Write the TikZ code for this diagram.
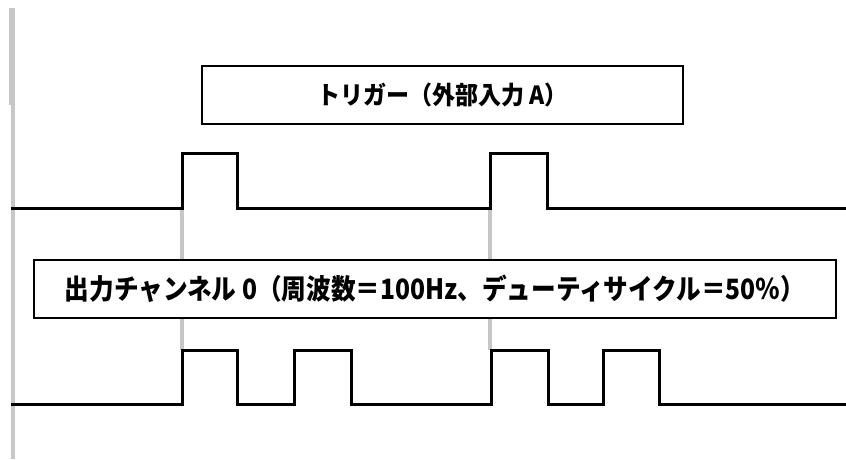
\documentclass[tikz,border=0pt]{standalone}
\usepackage{fontspec}
\newfontfamily\jpfont{Noto Sans CJK JP}
\begin{document}
\begin{tikzpicture}[x=1pt,y=-1pt,
  wave/.style={line width=3pt, line join=miter},
  guide/.style={line width=3.5pt, draw=black!22},
  label/.style={draw=black, line width=2pt, fill=white, inner sep=0pt, font=\jpfont\bfseries}]
\useasboundingbox (0,0) rectangle (846,459);
% left axis
\draw[guide, line width=4pt] (13,8) -- (13,459);
\draw[draw=black!22, line width=6pt] (12,8) -- (12,105);
% guide coordinates
\coordinate (t1) at (182,208);
\coordinate (o1) at (182,350);
\coordinate (t2) at (490,208);
\coordinate (o2) at (490,350);
\draw[guide] (t1) -- (o1);
\draw[guide] (t2) -- (o2);
% trigger waveform
\draw[wave] (11,208) -- (182,208) -- (182,153) -- (237,153) -- (237,208) -- (490,208) -- (490,153) -- (547,153) -- (547,208) -- (846,208);
% output waveform
\draw[wave] (11,404) -- (182,404) -- (182,350) -- (237,350) -- (237,404) -- (294,404) -- (294,350) -- (351,350) -- (351,404) -- (491,404) -- (491,350) -- (548,350) -- (548,404) -- (603,404) -- (603,350) -- (659,350) -- (659,404) -- (846,404);
% label boxes
\node[label, minimum width=481pt, minimum height=58pt, font=\jpfont\bfseries\fontsize{25}{25}\selectfont] (trig) at (442.5,95) {\scalebox{0.92}[1]{トリガー（外部入力 A）}};
\node[label, minimum width=802pt, minimum height=58pt, font=\jpfont\bfseries\fontsize{28}{28}\selectfont] (out) at (435,289) {\scalebox{0.88}[1]{出力チャンネル 0（周波数＝100Hz、デューティサイクル＝50％）}};
\end{tikzpicture}
\end{document}
